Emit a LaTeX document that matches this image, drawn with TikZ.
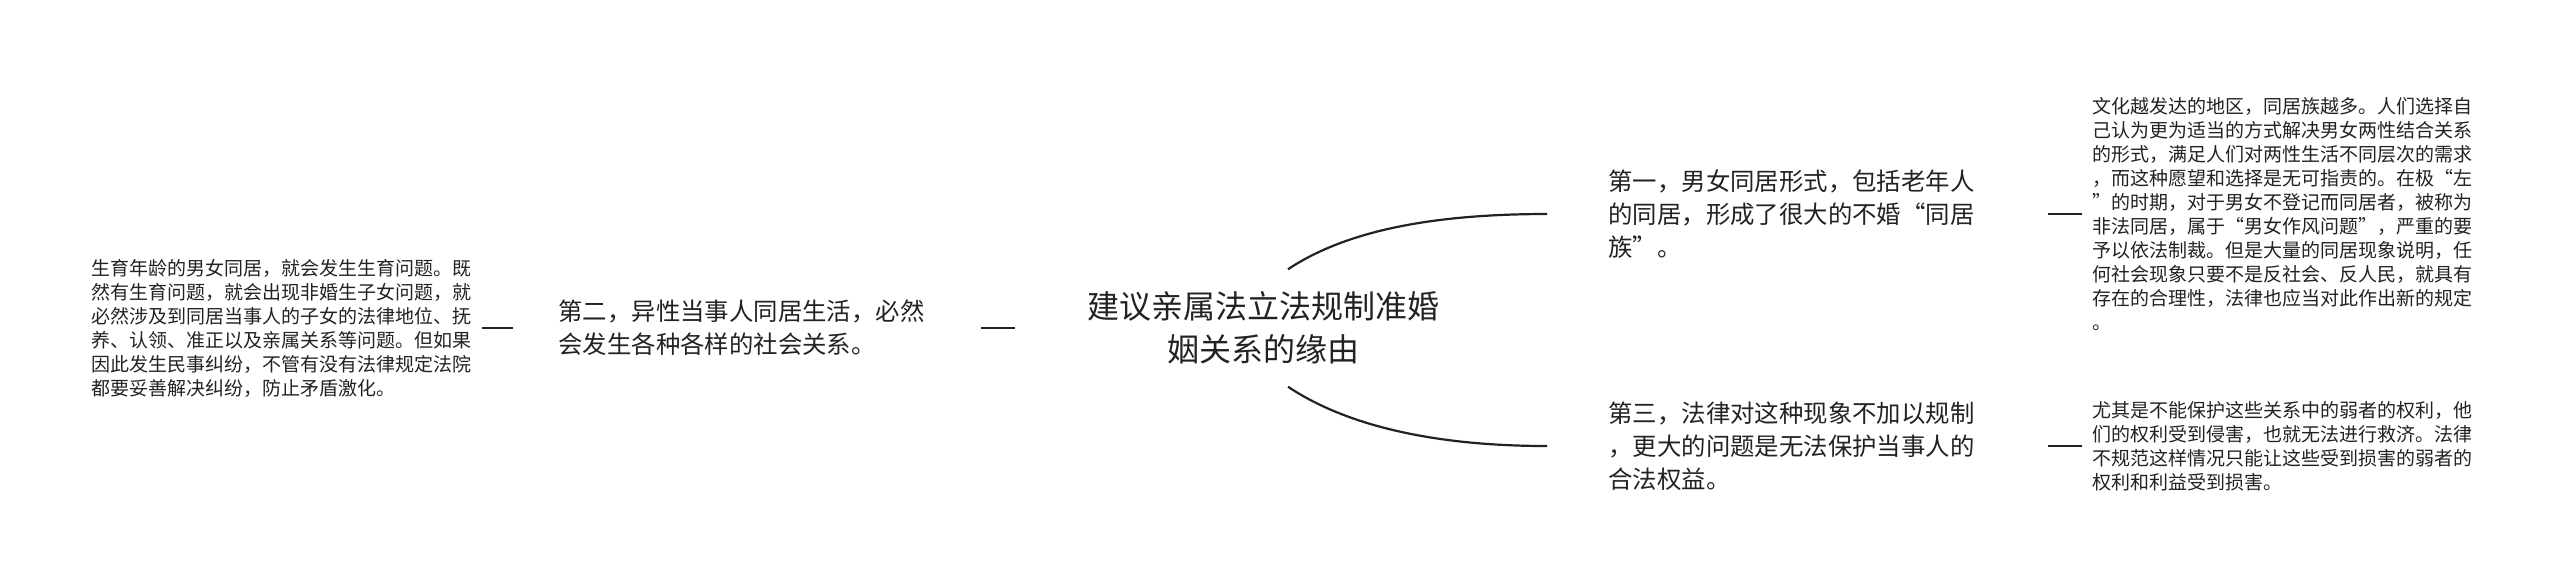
\documentclass[tikz,border=0pt]{standalone}
\usepackage{fontspec}
\setmainfont{Noto Sans CJK SC}
\definecolor{ink}{HTML}{222222}

\begin{document}
\begin{tikzpicture}[x=0.5pt,y=-0.5pt,
    every node/.style={text=ink,inner ysep=0pt},
    topic/.style={align=center,font=\fontsize{16pt}{21.5pt}\selectfont,inner xsep=36pt,inner ysep=11pt},
    branch/.style={align=left,font=\fontsize{12.2pt}{16.5pt}\selectfont,inner xsep=30.5pt},
    leaf/.style={align=left,font=\fontsize{9.5pt}{12pt}\selectfont,inner xsep=5pt},
    curve/.style={draw=ink,line width=1.1pt},
    stub/.style={draw=ink,line width=1.4pt}]
    \useasboundingbox (0,0) rectangle (2560,586);

    \node[topic] (root) at (1263,328) {建议亲属法立法规制准婚\\姻关系的缘由};

    \node[branch,anchor=west] (first1) at (1547,214) {第一，男女同居形式，包括老年人\\的同居，形成了很大的不婚“同居\\族”。};
    \node[branch,anchor=west] (first3) at (1547,446) {第三，法律对这种现象不加以规制\\，更大的问题是无法保护当事人的\\合法权益。};
    \node[branch,anchor=west,inner xsep=22.5pt] (second2) at (513,328) {第二，异性当事人同居生活，必然\\会发生各种各样的社会关系。};

    \node[leaf,anchor=west] (leaf1) at (2082,214) {文化越发达的地区，同居族越多。人们选择自\\己认为更为适当的方式解决男女两性结合关系\\的形式，满足人们对两性生活不同层次的需求\\，而这种愿望和选择是无可指责的。在极“左\\”的时期，对于男女不登记而同居者，被称为\\非法同居，属于“男女作风问题”，严重的要\\予以依法制裁。但是大量的同居现象说明，任\\何社会现象只要不是反社会、反人民，就具有\\存在的合理性，法律也应当对此作出新的规定\\。};
    \node[leaf,anchor=west] (leaf3) at (2082,446) {尤其是不能保护这些关系中的弱者的权利，他\\们的权利受到侵害，也就无法进行救济。法律\\不规范这样情况只能让这些受到损害的弱者的\\权利和利益受到损害。};
    \node[leaf,anchor=east] (leafL) at (482,328) {生育年龄的男女同居，就会发生生育问题。既\\然有生育问题，就会出现非婚生子女问题，就\\必然涉及到同居当事人的子女的法律地位、抚\\养、认领、准正以及亲属关系等问题。但如果\\因此发生民事纠纷，不管有没有法律规定法院\\都要妥善解决纠纷，防止矛盾激化。};

    \draw[curve] ([xshift=12.5pt]root.north) .. controls +(60,-40) and +(-110,0) .. (first1.west);
    \draw[curve] ([xshift=12.5pt]root.south) .. controls +(60,40) and +(-110,0) .. (first3.west);

    \draw[stub,shorten >=5.5pt] (root.west) -- (second2.east);
    \draw[stub] (second2.west) -- (leafL.east);
    \draw[stub,shorten <=6pt] (first1.east) -- (leaf1.west);
    \draw[stub,shorten <=6pt] (first3.east) -- (leaf3.west);
\end{tikzpicture}
\end{document}
